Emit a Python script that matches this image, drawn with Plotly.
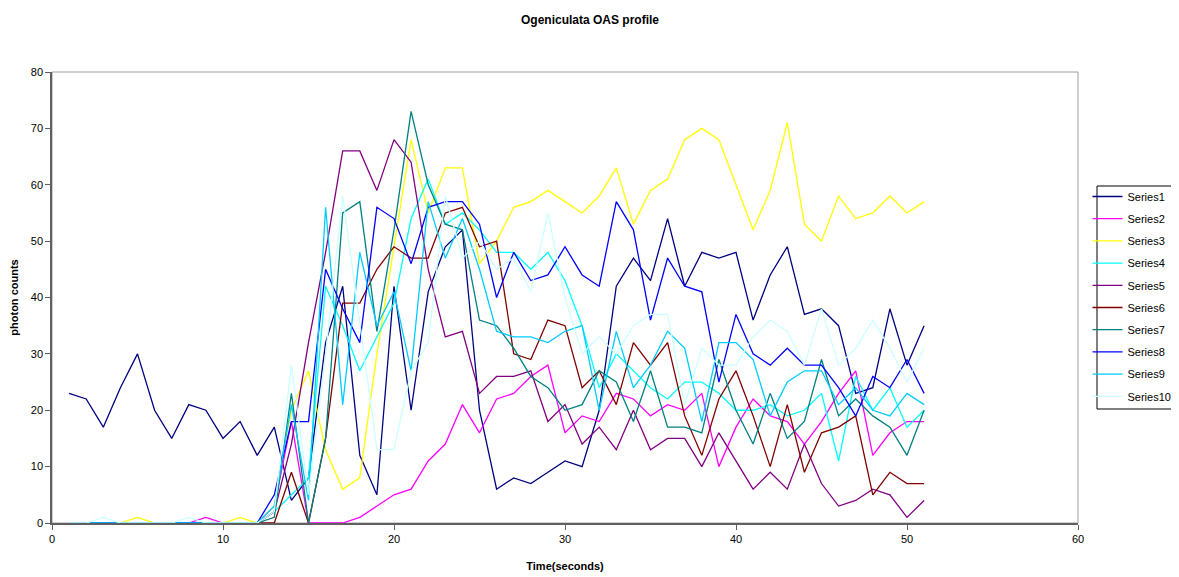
import plotly.graph_objects as go

time = list(range(1, 52))

series1 = [23, 22, 17, 24, 30, 20, 15, 21, 20, 15, 18, 12, 17, 4, 8, 32, 42, 12, 5, 42,
           20, 41, 49, 52, 20, 6, 8, 7, 9, 11, 10, 20, 42, 47, 43, 54, 42, 48, 47, 48,
           36, 44, 49, 37, 38, 35, 23, 24, 38, 28, 35]
series2 = [0, 0, 0, 0, 0, 0, 0, 0, 1, 0, 0, 0, 3, 18, 0, 0, 0, 1, 3, 5,
           6, 11, 14, 21, 16, 22, 23, 26, 28, 16, 19, 18, 23, 22, 19, 21, 20, 23, 10, 17,
           22, 19, 18, 14, 18, 23, 27, 12, 16, 18, 18]
series3 = [0, 0, 0, 0, 1, 0, 0, 0, 0, 0, 1, 0, 3, 20, 27, 13, 6, 8, 30, 49,
           68, 55, 63, 63, 46, 50, 56, 57, 59, 57, 55, 58, 63, 53, 59, 61, 68, 70, 68, 60,
           52, 59, 71, 53, 50, 58, 54, 55, 58, 55, 57]
series4 = [0, 0, 0, 0, 0, 0, 0, 0, 0, 0, 0, 0, 2, 5, 8, 42, 35, 27, 33, 39,
           54, 61, 53, 55, 52, 48, 48, 45, 48, 43, 35, 24, 30, 27, 24, 22, 25, 25, 23, 20,
           20, 21, 19, 20, 23, 11, 26, 20, 24, 17, 20]
series5 = [0, 0, 0, 0, 0, 0, 0, 0, 0, 0, 0, 0, 2, 14, 32, 48, 66, 66, 59, 68,
           64, 45, 33, 34, 23, 26, 26, 27, 18, 21, 14, 17, 13, 20, 13, 15, 15, 10, 16, 11,
           6, 9, 6, 14, 7, 3, 4, 6, 5, 1, 4]
series6 = [0, 0, 0, 0, 0, 0, 0, 0, 0, 0, 0, 0, 0, 9, 0, 15, 39, 39, 45, 49,
           47, 47, 55, 56, 49, 50, 30, 29, 36, 35, 24, 27, 21, 32, 28, 32, 19, 12, 22, 27,
           19, 10, 21, 9, 16, 17, 19, 5, 9, 7, 7]
series7 = [0, 0, 0, 0, 0, 0, 0, 0, 0, 0, 0, 0, 1, 23, 0, 15, 55, 57, 34, 52,
           73, 60, 53, 52, 36, 35, 31, 26, 24, 20, 21, 27, 25, 18, 27, 17, 17, 16, 29, 20,
           14, 23, 15, 18, 29, 19, 22, 19, 17, 12, 20]
series8 = [0, 0, 0, 0, 0, 0, 0, 0, 0, 0, 0, 0, 5, 18, 18, 45, 38, 32, 56, 54,
           46, 56, 57, 57, 53, 40, 48, 43, 44, 49, 44, 42, 57, 52, 36, 47, 42, 41, 25, 37,
           30, 28, 31, 28, 28, 24, 19, 26, 24, 29, 23]
series9 = [0, 0, 0, 0, 0, 0, 0, 0, 0, 0, 0, 0, 3, 21, 4, 56, 21, 48, 35, 41,
           27, 57, 47, 54, 45, 34, 33, 33, 32, 34, 35, 20, 34, 24, 28, 34, 31, 18, 32, 32,
           29, 19, 25, 27, 27, 21, 24, 20, 19, 23, 21]
series10 = [0, 0, 1, 0, 0, 0, 0, 1, 0, 0, 0, 0, 2, 28, 5, 30, 58, 35, 13, 13,
            27, 32, 58, 47, 50, 45, 47, 41, 55, 40, 30, 33, 30, 35, 37, 37, 21, 31, 28, 28,
            33, 36, 34, 28, 38, 28, 31, 36, 31, 25, 31]

series_names = ["Series1", "Series2", "Series3", "Series4", "Series5",
                "Series6", "Series7", "Series8", "Series9", "Series10"]
series_values = [series1, series2, series3, series4, series5,
                 series6, series7, series8, series9, series10]
colors = ["#000080", "#FF00FF", "#FFFF00", "#00FFFF", "#800080",
          "#800000", "#008080", "#0000FF", "#00CCFF", "#CCFFFF"]

FONT = "Liberation Sans, Arial, sans-serif"

# page body has an 8px margin; figure offsets compensate for it
OFF = 8
FIG_W, FIG_H = 1200, 569
L, T = 52 - OFF, 72 - OFF
PLOT_W, PLOT_H = 1026, 451
R = FIG_W - L - PLOT_W
B = FIG_H - T - PLOT_H

fig = go.Figure()
for name, vals, col in zip(series_names, series_values, colors):
    fig.add_trace(go.Scatter(
        x=time, y=vals, mode="lines", name=name, legendgroup=name,
        line=dict(color=col, width=1.3),
    ))

fig.update_layout(
    width=FIG_W, height=FIG_H,
    margin=dict(l=L, r=R, t=T, b=B, autoexpand=False),
    paper_bgcolor="white", plot_bgcolor="white",
    font=dict(family=FONT, size=11, color="black"),
    title=dict(text="<b>Ogeniculata OAS profile</b>", x=(590 - OFF) / FIG_W, xanchor="center",
               y=1 - (20 - OFF) / FIG_H, yanchor="middle", yref="container",
               font=dict(family=FONT, size=12, color="black")),
    showlegend=True,
    legend=dict(x=(1087.5 - 52) / PLOT_W, xanchor="left", y=(523 - 182) / PLOT_H, yanchor="top",
                borderwidth=0, bgcolor="rgba(0,0,0,0)",
                font=dict(family=FONT, size=11), tracegroupgap=3.2, itemwidth=30),
    xaxis=dict(range=[0, 60], tick0=0, dtick=10, showgrid=False, zeroline=False,
               showline=True, linecolor="#606060", linewidth=1.5,
               ticks="outside", ticklen=5, tickcolor="#606060",
               title=dict(text="<b>Time(seconds)</b>", standoff=18,
                          font=dict(family=FONT, size=11))),
    yaxis=dict(range=[0, 80], tick0=0, dtick=10, showgrid=False, zeroline=False,
               showline=True, linecolor="#606060", linewidth=1.5,
               ticks="outside", ticklen=5, tickcolor="#606060",
               title=dict(text="<b>photon counts</b>", standoff=13,
                          font=dict(family=FONT, size=11))),
    shapes=[
        dict(type="rect", xref="paper", yref="paper", x0=0, y0=0, x1=1, y1=1,
             line=dict(color="#A0A0A0", width=1), layer="below"),
        dict(type="rect", xref="paper", yref="paper",
             x0=(1097 - 52) / PLOT_W, x1=(1177 - 52) / PLOT_W,
             y0=(523 - 409) / PLOT_H, y1=(523 - 186) / PLOT_H,
             line=dict(color="black", width=1), fillcolor="rgba(0,0,0,0)", layer="above"),
    ],
)

fig.write_html("out.html")
